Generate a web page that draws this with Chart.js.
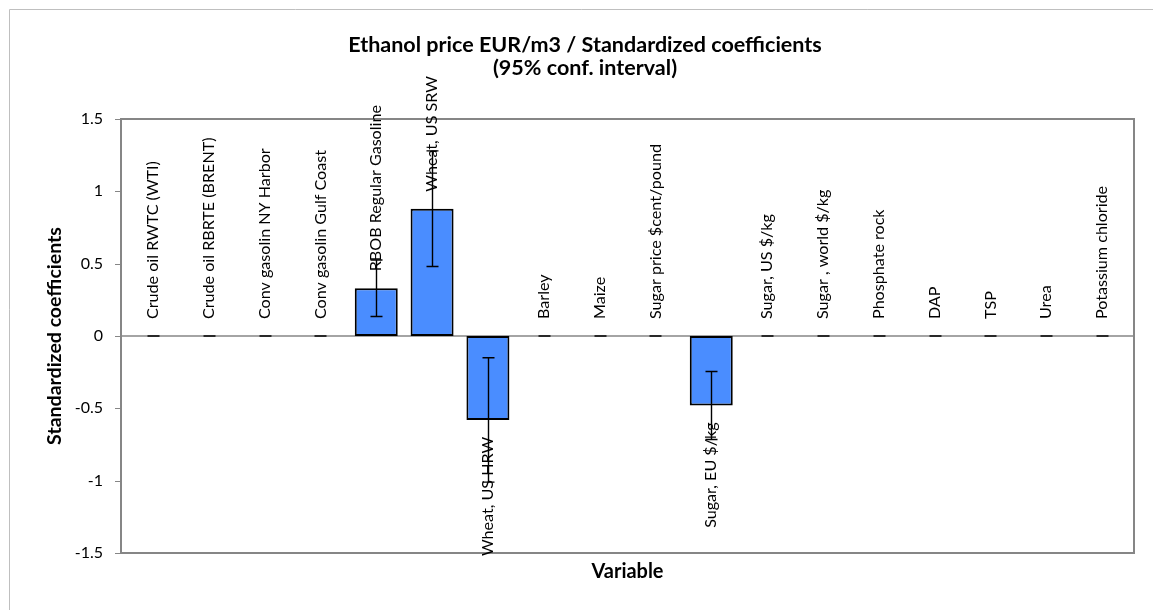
<!DOCTYPE html>
<html><head><meta charset="utf-8">
<script src="https://cdn.jsdelivr.net/npm/chart.js@4.4.1/dist/chart.umd.min.js"></script>
<style>html,body{margin:0;padding:0;background:#fff;}#wrap{width:1153px;height:610px;position:relative}</style>
</head><body><div id="wrap"><canvas id="c" width="1153" height="610"></canvas></div>
<script>
const categories = [
  "Crude oil RWTC (WTI)", "Crude oil RBRTE (BRENT)", "Conv gasolin NY Harbor", "Conv gasolin Gulf Coast",
  "RBOB Regular Gasoline", "Wheat, US SRW", "Wheat, US HRW", "Barley", "Maize",
  "Sugar price $cent/pound", "Sugar, EU $/kg", "Sugar, US $/kg", "Sugar , world $/kg",
  "Phosphate rock", "DAP", "TSP", "Urea", "Potassium chloride"
];
const coefficients = [0, 0, 0, 0, 0.33, 0.88, -0.58, 0, 0, 0, -0.48, 0, 0, 0, 0, 0, 0, 0];
const confHalfWidth = [0, 0, 0, 0, 0.195, 0.40, 0.43, 0, 0, 0, 0.235, 0, 0, 0, 0, 0, 0, 0];
const yTickValues = [-1.5, -1, -0.5, 0, 0.5, 1, 1.5];
const titleLines = ["Ethanol price EUR/m3 / Standardized coefficients", "(95% conf. interval)"];
const yTitle = "Standardized coefficients";
const xTitle = "Variable";

const FAMILY = "Lato, 'Liberation Sans', sans-serif";
function fitSize(text, weight, target) {
  const c = document.createElement('canvas').getContext('2d');
  c.font = weight + " 100px " + FAMILY;
  return 100 * target / c.measureText(text).width;
}
const labelSize = fitSize(categories[0], 'normal', 158);
const titleSize = fitSize(titleLines[0], 'bold', 474);
const yTitleSize = fitSize(yTitle, 'bold', 218);
const xTitleSize = fitSize(xTitle, 'bold', 72);

const framePlugin = {
  id: 'frame',
  beforeDatasetsDraw(chart) {
    const ctx = chart.ctx, a = chart.chartArea, y = chart.scales.y;
    const L = a.left - 4, R = a.right + 4, T = a.top, B = a.bottom;
    ctx.save();
    ctx.strokeStyle = '#BFBFBF'; ctx.lineWidth = 1;
    ctx.beginPath(); ctx.moveTo(9.5, 610); ctx.lineTo(9.5, 9.5); ctx.lineTo(1153, 9.5); ctx.stroke();
    ctx.strokeStyle = '#868686'; ctx.lineWidth = 2;
    ctx.strokeRect(L, T, R - L, B - T);
    const y0 = y.getPixelForValue(0);
    ctx.lineWidth = 1.5;
    ctx.beginPath(); ctx.moveTo(L, y0); ctx.lineTo(R, y0); ctx.stroke();
    ctx.lineWidth = 1;
    yTickValues.forEach(v => {
      const p = Math.round(y.getPixelForValue(v)) + 0.5;
      ctx.beginPath(); ctx.moveTo(L - 6, p); ctx.lineTo(L, p); ctx.stroke();
    });
    ctx.restore();
  },
  afterDatasetsDraw(chart) {
    const ctx = chart.ctx, y = chart.scales.y, meta = chart.getDatasetMeta(0);
    ctx.save();
    ctx.fillStyle = '#000';
    ctx.font = labelSize + "px " + FAMILY;
    ctx.textBaseline = 'middle';
    meta.data.forEach((bar, i) => {
      const v = coefficients[i];
      ctx.save();
      if (v >= 0) { ctx.translate(bar.x, bar.y - 17); ctx.rotate(-Math.PI / 2); ctx.textAlign = 'left'; }
      else { ctx.translate(bar.x, bar.y + 17); ctx.rotate(-Math.PI / 2); ctx.textAlign = 'right'; }
      ctx.fillText(categories[i], 0, 0);
      ctx.restore();
    });
    ctx.strokeStyle = '#000'; ctx.lineWidth = 1.4;
    meta.data.forEach((bar, i) => {
      const v = coefficients[i], e = confHalfWidth[i];
      const yt = y.getPixelForValue(v + e), yb = y.getPixelForValue(v - e);
      const x = Math.round(bar.x) + 0.5;
      ctx.beginPath();
      ctx.moveTo(x, yt); ctx.lineTo(x, yb);
      ctx.moveTo(x - 6, yt); ctx.lineTo(x + 6, yt);
      ctx.moveTo(x - 6, yb); ctx.lineTo(x + 6, yb);
      ctx.stroke();
    });
    const a = chart.chartArea;
    ctx.textAlign = 'center'; ctx.textBaseline = 'middle';
    ctx.font = "bold " + titleSize + "px " + FAMILY;
    ctx.fillText(titleLines[0], 585, 45);
    ctx.fillText(titleLines[1], 585, 68);
    ctx.font = "bold " + xTitleSize + "px " + FAMILY;
    ctx.fillText(xTitle, (a.left + a.right) / 2, 572);
    ctx.save();
    ctx.translate(55, (a.top + a.bottom) / 2);
    ctx.rotate(-Math.PI / 2);
    ctx.font = "bold " + yTitleSize + "px " + FAMILY;
    ctx.fillText(yTitle, 0, 0);
    ctx.restore();
    ctx.restore();
  }
};

new Chart(document.getElementById('c'), {
  type: 'bar',
  data: {
    labels: categories,
    datasets: [{
      data: coefficients,
      backgroundColor: '#4A8DFF',
      borderColor: '#000',
      borderWidth: ctx => (ctx.raw === 0 ? 0 : 2),
      borderSkipped: false,
      categoryPercentage: 1,
      barPercentage: 0.77
    }]
  },
  options: {
    responsive: false,
    animation: false,
    devicePixelRatio: 1,
    layout: { padding: { left: 0, top: 119, right: 23, bottom: 57 } },
    plugins: { legend: { display: false }, title: { display: false }, tooltip: { enabled: false } },
    scales: {
      x: { display: false, offset: true },
      y: {
        min: -1.5, max: 1.5,
        afterFit: s => { s.width = 125; },
        afterBuildTicks: s => { s.ticks = yTickValues.map(v => ({ value: v })); },
        grid: { display: false, drawTicks: false },
        border: { display: false },
        ticks: {
          padding: 22,
          color: '#000',
          font: { family: FAMILY, size: 16 },
          callback: v => String(v)
        }
      }
    }
  },
  plugins: [framePlugin]
});
</script>
</body></html>
